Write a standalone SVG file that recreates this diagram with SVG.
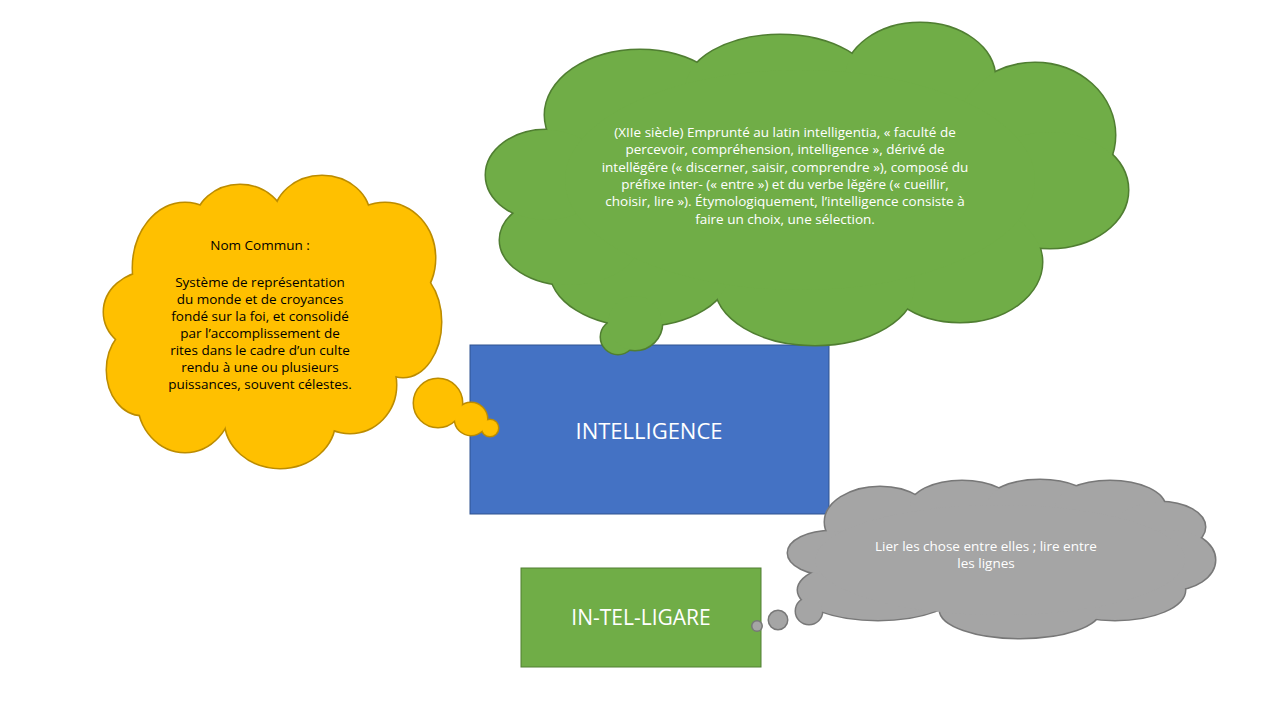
<svg xmlns="http://www.w3.org/2000/svg" width="1267" height="713" viewBox="0 0 1267 713">
<style>
text{font-family:"Open Sans","Noto Sans",sans-serif;text-anchor:middle}
.g ellipse,.g circle{fill:#70AD47}
.y ellipse,.y circle{fill:#FFC000}
.r ellipse,.r circle{fill:#A5A5A5}
.st ellipse,.st circle{stroke-width:3}
.g .st *{stroke:#507E32}
.y .st *{stroke:#BC8C00}
.r .st *{stroke:#787878}
.s{font-size:13.5px;fill:#fff}
</style>
<rect width="1267" height="713" fill="#fff"/>
<g id="intelligence"><rect x="470" y="345" width="359" height="169" fill="#4472C4" stroke="#2F528F"/><text x="649" y="439" font-size="22" fill="#fff">INTELLIGENCE</text></g>
<g id="inteligare"><rect x="521" y="568" width="240" height="99" fill="#70AD47" stroke="#507E32"/><text x="641" y="625" font-size="21" fill="#fff">IN-TEL-LIGARE</text></g>
<g id="etymologie" class="g">
<g class="st"><ellipse cx="640" cy="115" rx="95" ry="65"/><ellipse cx="780" cy="90" rx="95" ry="55"/><ellipse cx="920" cy="78" rx="75" ry="55"/><ellipse cx="1035" cy="135" rx="80" ry="72"/><ellipse cx="1050" cy="190" rx="78" ry="58"/><ellipse cx="960" cy="262" rx="82" ry="60"/><ellipse cx="815" cy="285" rx="100" ry="60"/><ellipse cx="640" cy="270" rx="90" ry="56"/><ellipse cx="570" cy="240" rx="70" ry="45"/><ellipse cx="546" cy="175" rx="60" ry="45"/><circle cx="618" cy="337" r="17"/><circle cx="635" cy="323" r="27"/></g>
<ellipse cx="640" cy="115" rx="95" ry="65"/><ellipse cx="780" cy="90" rx="95" ry="55"/><ellipse cx="920" cy="78" rx="75" ry="55"/><ellipse cx="1035" cy="135" rx="80" ry="72"/><ellipse cx="1050" cy="190" rx="78" ry="58"/><ellipse cx="960" cy="262" rx="82" ry="60"/><ellipse cx="815" cy="285" rx="100" ry="60"/><ellipse cx="640" cy="270" rx="90" ry="56"/><ellipse cx="570" cy="240" rx="70" ry="45"/><ellipse cx="546" cy="175" rx="60" ry="45"/><ellipse cx="800" cy="180" rx="235" ry="110"/><circle cx="618" cy="337" r="17"/><circle cx="635" cy="323" r="27"/>
<g class="s"><text x="785" y="137">(XIIe siècle) Emprunté au latin intelligentia, « faculté de</text><text x="785" y="154">percevoir, compréhension, intelligence », dérivé de</text><text x="785" y="172">intellĕgĕre (« discerner, saisir, comprendre »), composé du</text><text x="785" y="189">préfixe inter- (« entre ») et du verbe lĕgĕre (« cueillir,</text><text x="785" y="206">choisir, lire »). Étymologiquement, l’intelligence consiste à</text><text x="785" y="224">faire un choix, une sélection.</text></g>
</g>
<g id="nomcommun" class="y">
<g class="st"><ellipse cx="185" cy="268" rx="52" ry="65"/><ellipse cx="240" cy="225" rx="45" ry="40"/><ellipse cx="322" cy="218" rx="48" ry="42"/><ellipse cx="385" cy="258" rx="50" ry="55"/><ellipse cx="403" cy="322" rx="38" ry="55"/><ellipse cx="350" cy="385" rx="46" ry="48"/><ellipse cx="280" cy="420" rx="55" ry="48"/><ellipse cx="185" cy="400" rx="47" ry="52"/><ellipse cx="142" cy="370" rx="35" ry="45"/><ellipse cx="150" cy="312" rx="46" ry="40"/><circle cx="490" cy="428" r="8"/><circle cx="471" cy="419" r="16"/><circle cx="438" cy="403" r="24"/></g>
<ellipse cx="185" cy="268" rx="52" ry="65"/><ellipse cx="240" cy="225" rx="45" ry="40"/><ellipse cx="322" cy="218" rx="48" ry="42"/><ellipse cx="385" cy="258" rx="50" ry="55"/><ellipse cx="403" cy="322" rx="38" ry="55"/><ellipse cx="350" cy="385" rx="46" ry="48"/><ellipse cx="280" cy="420" rx="55" ry="48"/><ellipse cx="185" cy="400" rx="47" ry="52"/><ellipse cx="142" cy="370" rx="35" ry="45"/><ellipse cx="150" cy="312" rx="46" ry="40"/><ellipse cx="270" cy="320" rx="130" ry="100"/><circle cx="490" cy="428" r="8"/><circle cx="471" cy="419" r="16"/><circle cx="438" cy="403" r="24"/>
<g font-size="13.5" fill="#000"><text x="260" y="250">Nom Commun :</text><text x="260" y="287">Système de représentation</text><text x="260" y="304">du monde et de croyances</text><text x="260" y="321">fondé sur la foi, et consolidé</text><text x="260" y="338">par l’accomplissement de</text><text x="260" y="355">rites dans le cadre d’un culte</text><text x="260" y="372">rendu à une ou plusieurs</text><text x="260" y="389">puissances, souvent célestes.</text></g>
</g>
<g id="lier" class="r">
<g class="st"><ellipse cx="880" cy="522" rx="55" ry="35"/><ellipse cx="962" cy="507" rx="52" ry="26"/><ellipse cx="1040" cy="503" rx="52" ry="23"/><ellipse cx="1110" cy="507" rx="55" ry="26"/><ellipse cx="1160" cy="527" rx="45" ry="25"/><ellipse cx="1170" cy="560" rx="45" ry="30"/><ellipse cx="1115" cy="590" rx="70" ry="30"/><ellipse cx="1020" cy="610" rx="80" ry="28"/><ellipse cx="878" cy="590" rx="80" ry="30"/><ellipse cx="832" cy="553" rx="44" ry="22"/><circle cx="757" cy="626" r="4.5"/><circle cx="778" cy="620" r="9"/><circle cx="809" cy="611" r="13"/></g>
<ellipse cx="880" cy="522" rx="55" ry="35"/><ellipse cx="962" cy="507" rx="52" ry="26"/><ellipse cx="1040" cy="503" rx="52" ry="23"/><ellipse cx="1110" cy="507" rx="55" ry="26"/><ellipse cx="1160" cy="527" rx="45" ry="25"/><ellipse cx="1170" cy="560" rx="45" ry="30"/><ellipse cx="1115" cy="590" rx="70" ry="30"/><ellipse cx="1020" cy="610" rx="80" ry="28"/><ellipse cx="878" cy="590" rx="80" ry="30"/><ellipse cx="832" cy="553" rx="44" ry="22"/><ellipse cx="1000" cy="560" rx="185" ry="55"/><circle cx="757" cy="626" r="4.5"/><circle cx="778" cy="620" r="9"/><circle cx="809" cy="611" r="13"/>
<g class="s"><text x="986" y="551">Lier les chose entre elles ; lire entre</text><text x="986" y="568">les lignes</text></g>
</g>
<g id="connectors"/>
</svg>
